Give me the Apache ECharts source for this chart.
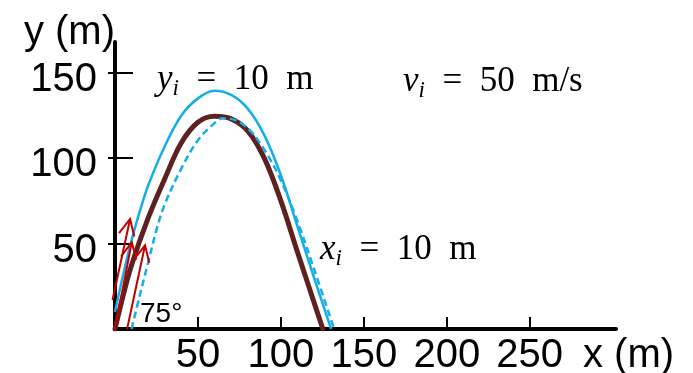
<!DOCTYPE html>
<html>
<head>
<meta charset="utf-8">
<script src="https://cdn.jsdelivr.net/npm/echarts@6/dist/echarts.min.js"></script>
<style>
  html, body { margin: 0; padding: 0; background: #fff; }
  #chart { width: 693px; height: 373px; }
</style>
</head>
<body>
<div id="chart"></div>
<script>
// axis ticks
const xTicks = [50, 100, 150, 200, 250];
const yTicks = [50, 100, 150];

// thrown from the origin (thick brown)
const baseX = [0, 5, 10, 20, 30, 40, 50, 60, 70, 80, 90, 100, 110, 120, 125.3];
const baseY = [0, 20, 37.5, 65, 88, 109, 121, 124.5, 123, 116, 100, 75, 45, 15.5, 0];

// thrown from y = 10 m (solid blue)
const highX = [0, 5, 10, 15, 20, 30, 40, 50, 60, 70, 80, 90, 100, 110, 120, 130.3];
const highY = [10, 32, 52, 69, 84, 107, 125, 135, 139.4, 137, 129, 113.5, 90, 60, 30, 0];

// thrown from x = 10 m (dashed blue)
const shiftX = [10, 15, 20, 25, 30, 40, 50, 60, 65, 70, 80, 90, 100, 110, 120, 132.1];
const shiftY = [0, 20, 39, 58, 73, 94, 110.5, 120.5, 123.3, 123, 117.5, 105, 87, 63, 35, 0];

// launch velocity arrows (tail -> head)
const arrowX0 = [-1.5, 0, 7.3];
const arrowY0 = [17, 0, 0];
const arrowX1 = [9.1, 10.1, 18.1];
const arrowY1 = [64.4, 50.8, 49];

const zip = (a, b) => a.map((v, i) => [v, b[i]]);
const arrows = arrowX0.map((v, i) => [v, arrowY0[i], arrowX1[i], arrowY1[i]]);

const sans = "'Liberation Sans', Arial, sans-serif";
const serif = "'Liberation Serif', 'Times New Roman', serif";
const mathRich = {
  v: { fontFamily: serif, fontStyle: 'italic', fontSize: 35, lineHeight: 40, color: '#000' },
  s: { fontFamily: serif, fontStyle: 'italic', fontSize: 23, lineHeight: 16, verticalAlign: 'bottom', color: '#000' },
  t: { fontFamily: serif, fontSize: 35, lineHeight: 40, color: '#000' }
};

function renderArrow(params, api) {
  const p0 = api.coord([api.value(0), api.value(1)]);
  const p1 = api.coord([api.value(2), api.value(3)]);
  const dx = p0[0] - p1[0], dy = p0[1] - p1[1];
  const len = Math.sqrt(dx * dx + dy * dy);
  const ux = dx / len, uy = dy / len;
  const wing = 18, c = Math.cos(0.45), s = Math.sin(0.45);
  const w1 = [p1[0] + wing * (ux * c - uy * s), p1[1] + wing * (ux * s + uy * c)];
  const w2 = [p1[0] + wing * (ux * c + uy * s), p1[1] + wing * (-ux * s + uy * c)];
  const st = { stroke: '#c00000', lineWidth: 2, fill: null };
  return {
    type: 'group',
    children: [
      { type: 'line', shape: { x1: p0[0], y1: p0[1], x2: p1[0], y2: p1[1] }, style: st },
      { type: 'polyline', shape: { points: [w1, p1, w2] }, style: st }
    ]
  };
}

const chart = echarts.init(document.getElementById('chart'));
chart.setOption({
  animation: false,
  backgroundColor: '#fff',
  grid: { left: 115, right: 77, top: 42, bottom: 44, outerBoundsMode: 'none' },
  xAxis: {
    type: 'value',
    min: 0,
    max: 302,
    name: 'x (m)',
    nameLocation: 'end',
    nameGap: -33,
    nameMoveOverlap: false,
    nameTextStyle: { fontFamily: sans, fontSize: 40, color: '#000', align: 'left', verticalAlign: 'top', lineHeight: 53 },
    splitLine: { show: false },
    axisLine: { lineStyle: { color: '#000', width: 4 } },
    axisTick: { inside: true, length: 12, customValues: xTicks, lineStyle: { color: '#000', width: 2 } },
    axisLabel: { customValues: xTicks, margin: 7, fontFamily: sans, fontSize: 40, color: '#000' }
  },
  yAxis: [
    {
      type: 'value',
      min: 0,
      max: 168,
      name: 'y (m)',
      nameLocation: 'end',
      nameGap: 9,
      nameMoveOverlap: false,
      nameTextStyle: { fontFamily: sans, fontSize: 40, color: '#000', align: 'right', verticalAlign: 'middle' },
      splitLine: { show: false },
      axisLine: { lineStyle: { color: '#000', width: 4 } },
      axisTick: { inside: true, length: 18, customValues: yTicks, lineStyle: { color: '#000', width: 2 } },
      axisLabel: { customValues: yTicks, margin: 18, verticalAlign: 'top', lineHeight: 14, fontFamily: sans, fontSize: 40, color: '#000' }
    },
    {
      // outer half of the crossing ticks
      type: 'value',
      position: 'left',
      min: 0,
      max: 168,
      splitLine: { show: false },
      axisLine: { show: false },
      axisLabel: { show: false },
      axisTick: { inside: false, length: 7, customValues: yTicks, lineStyle: { color: '#000', width: 2 } }
    }
  ],
  series: [
    {
      type: 'line', data: zip(baseX, baseY), smooth: 0.35, showSymbol: false,
      lineStyle: { color: '#5e2120', width: 5, cap: 'round' }, z: 2
    },
    {
      type: 'line', data: zip(highX, highY), smooth: 0.35, showSymbol: false,
      lineStyle: { color: '#13aee8', width: 2.5 }, z: 3
    },
    {
      type: 'line', data: zip(shiftX, shiftY), smooth: 0.35, showSymbol: false,
      lineStyle: { color: '#13aee8', width: 2.5, type: [7, 4] }, z: 3
    },
    {
      type: 'custom', data: arrows, renderItem: renderArrow, clip: false,
      encode: { x: [0, 2], y: [1, 3] }, z: 5
    }
  ],
  graphic: [
    { type: 'text', x: 157, y: 60, style: { text: '{v|y}{s|i}{t|\u2002=\u200210\u2002m}', rich: mathRich, verticalAlign: 'top' } },
    { type: 'text', x: 403, y: 62, style: { text: '{v|v}{s|i}{t|\u2002=\u200250\u2002m/s}', rich: mathRich, verticalAlign: 'top' } },
    { type: 'text', x: 320, y: 230, style: { text: '{v|x}{s|i}{t|\u2002=\u200210\u2002m}', rich: mathRich, verticalAlign: 'top' } },
    { type: 'text', x: 140, y: 300, style: { text: '75°', font: "28px 'Liberation Sans', Arial, sans-serif", fill: '#000', verticalAlign: 'top' } }
  ]
});
</script>
</body>
</html>
